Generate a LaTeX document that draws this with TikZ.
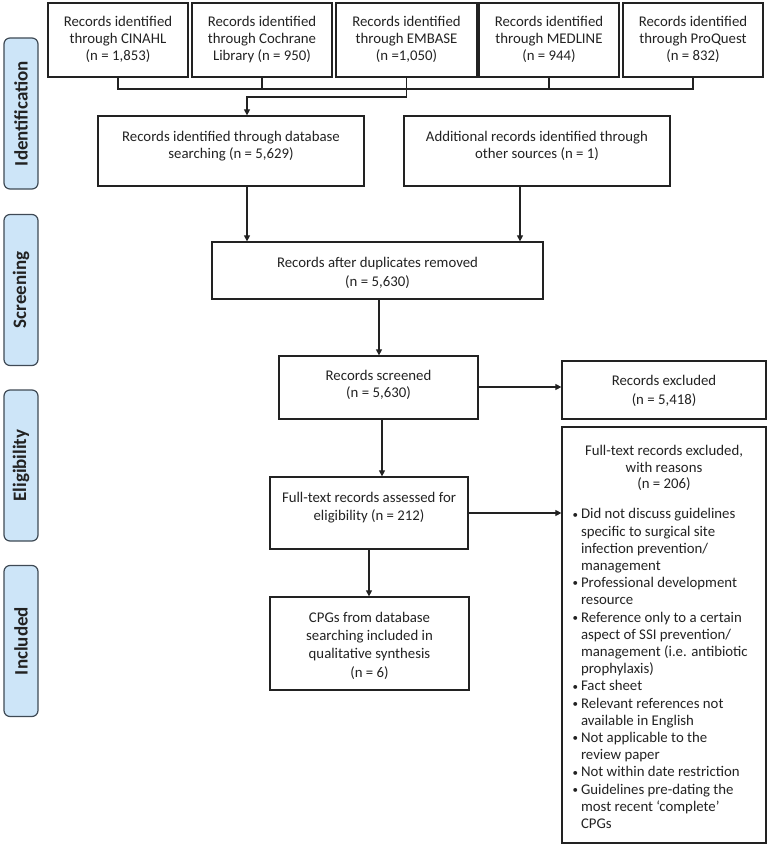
\documentclass[tikz,border=0pt]{standalone}
\usepackage{fontspec}
\setmainfont{Carlito}
\usetikzlibrary{arrows.meta}
\definecolor{labfill}{HTML}{CDE5F8}
\definecolor{labline}{HTML}{3F4A55}
\definecolor{ink}{HTML}{222222}
\setlength{\parskip}{0pt}
\newcommand{\bt}[5][17.5]{\parbox[c][#3pt][t]{#2pt}{\fontsize{14.8}{#1}\selectfont\centering\vspace*{#4pt}\strut #5}}
\newcommand{\bl}{\hspace*{10.5pt}\makebox[8.5pt][l]{\raisebox{0.8pt}{\fontsize{11}{11}\selectfont •}}}
\newcommand{\cl}{\hspace*{19pt}}
\begin{document}
\begin{tikzpicture}[x=1pt,y=-1pt,
  box/.style={draw=ink,line width=1.25pt,inner sep=0pt,text=ink},
  lab/.style={draw=labline,fill=labfill,line width=1.2pt,rounded corners=6pt,rotate=90,
    minimum width=151pt,minimum height=34pt,inner sep=0pt,text=ink,
    font=\fontsize{19}{21}\selectfont\bfseries},
  ln/.style={draw=ink,line width=1.2pt},
  arr/.style={ln,-{Triangle[length=6pt,width=6pt]}}]
\useasboundingbox (0,0) rectangle (768,845);
% phase labels
\node[lab] (lid) at (21,113.5) {Identification};
\node[lab] (lsc) at (21,290) {Screening};
\node[lab] (lel) at (21,465.5) {Eligibility};
\node[lab] (lin) at (21,641) {Included};
% source boxes
\node[box] (c1) at (118,40) {\bt[17]{140}{74}{11.4}{Records identified\\ through CINAHL\\ (n = 1,853)}};
\node[box] (c2) at (262,40) {\bt[17]{140}{74}{11.4}{Records identified\\ through Cochrane\\ Library (n = 950)}};
\node[box] (c3) at (406.5,40) {\bt[17]{141}{74}{11.4}{Records identified\\ through EMBASE\\ (n =1,050)}};
\node[box] (c4) at (549,40) {\bt[17]{140}{74}{11.4}{Records identified\\ through MEDLINE\\ (n = 944)}};
\node[box] (c5) at (693,40) {\bt[17]{140}{74}{11.4}{Records identified\\ through ProQuest\\ (n = 832)}};
% main flow
\node[box] (db) at (231,151) {\bt[18]{266}{70}{12.4}{Records identified through database\\ searching (n = 5,629)}};
\node[box] (add) at (537,151) {\bt[18]{266}{70}{12.4}{Additional records identified through\\ other sources (n = 1)}};
\node[box] (dup) at (377.5,270.5) {\bt[19]{331}{57}{12.4}{Records after duplicates removed\\ (n = 5,630)}};
\node[box] (scr) at (378.5,387.5) {\bt[17]{199}{63}{12.4}{Records screened\\ (n = 5,630)}};
\node[box] (exc) at (664,390) {\bt[19]{204}{58}{11.4}{Records excluded\\ (n = 5,418)}};
\node[box] (ft) at (369,513) {\bt[18]{198}{72}{12.4}{Full-text records assessed for\\ eligibility (n = 212)}};
\node[box] (cpg) at (369.5,643.5) {\bt[18.3]{199}{93}{12.4}{CPGs from database\\ searching included in\\ qualitative synthesis\\ (n = 6)}};
\node[box] (ftx) at (664,635) {\parbox[c][416pt][t]{204pt}{\fontsize{14.8}{16.5}\selectfont\vspace*{17.4pt}{\centering\strut Full-text records excluded,\\ with reasons\\ (n = 206)\par}\fontsize{14.8}{17.2}\selectfont\vspace{12.8pt}%
{\raggedright
\bl Did not discuss guidelines\\
\cl specific to surgical site\\
\cl infection prevention/\\
\cl management\\
\bl Professional development\\
\cl resource\\
\bl Reference only to a certain\\
\cl aspect of SSI prevention/\\
\cl management (i.e. antibiotic\\
\cl prophylaxis)\\
\bl Fact sheet\\
\bl Relevant references not\\
\cl available in English\\
\bl Not applicable to the\\
\cl review paper\\
\bl Not within date restriction\\
\bl Guidelines pre-dating the\\
\cl most recent ‘complete’\\
\cl CPGs\par}}};
% connectors
\coordinate (jL) at (118,89);
\draw[ln] (c1.south) |- (c5.south |- jL) -- (c5.south);
\draw[ln] (c2.south) -- (c2.south |- jL);
\draw[ln] (c4.south) -- (c4.south |- jL);
\coordinate (k1) at (247,97);
\draw[arr] (c3.south) |- (k1) -- (db.north -| k1);
\draw[arr] (db.south -| k1) -- (dup.north -| k1);
\coordinate (k2) at (520,0);
\draw[arr] (add.south -| k2) -- (dup.north -| k2);
\coordinate (k4) at (379,0);
\draw[arr] (dup.south -| k4) -- (scr.north -| k4);
\coordinate (k5) at (0,387);
\draw[arr] (scr.east |- k5) -- (exc.west |- k5);
\coordinate (k3) at (382,0);
\draw[arr] (scr.south -| k3) -- (ft.north -| k3);
\draw[arr] (ft.east) -- (ft.east -| ftx.west);
\draw[arr] (ft.south) -- (ft.south |- cpg.north);
\end{tikzpicture}
\end{document}
